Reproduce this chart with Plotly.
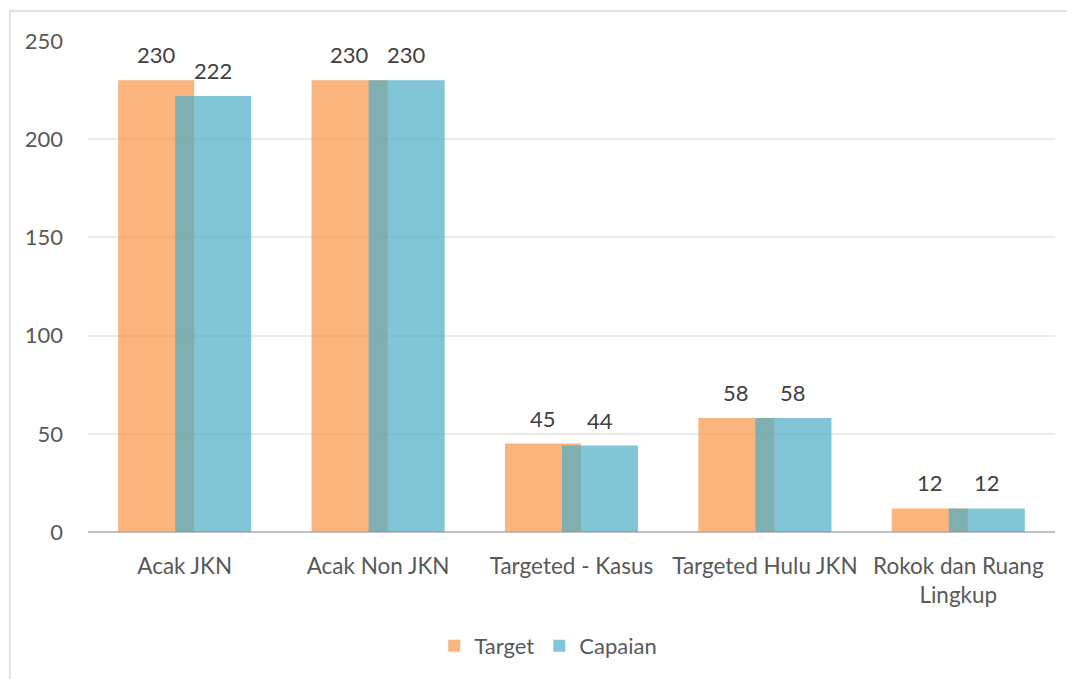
import plotly.graph_objects as go

categories = ["Acak JKN", "Acak Non JKN", "Targeted - Kasus", "Targeted Hulu JKN", "Rokok dan Ruang<br>Lingkup"]
target = [230, 230, 45, 58, 12]
capaian = [222, 230, 44, 58, 12]
y_ticks = [0, 50, 100, 150, 200, 250]

FONT = "Lato"
FS = 22
TXT = "#595959"
bar_w = 0.393
off_t = -0.344
off_c = -0.049

fig = go.Figure()
fig.add_trace(go.Bar(
    name="Target", x=categories, y=target,
    width=bar_w, offset=off_t,
    marker=dict(color="rgba(247,150,70,0.7)", line=dict(width=0)),
))
fig.add_trace(go.Bar(
    name="Capaian", x=categories, y=capaian,
    width=bar_w, offset=off_c,
    marker=dict(color="rgba(75,172,198,0.7)", line=dict(width=0)),
))

annotations = []
for i, (t, c) in enumerate(zip(target, capaian)):
    for val, off in ((t, off_t), (c, off_c)):
        annotations.append(dict(
            x=i + off + bar_w / 2, y=val, xref="x", yref="y",
            text=str(val), showarrow=False, yanchor="bottom", yshift=10,
            font=dict(family=FONT, size=FS, color="#404040"),
        ))

# page body has an 8px margin, so the figure is shifted by 8px
fig.update_layout(
    barmode="overlay",
    width=1067, height=671,
    margin=dict(l=80, r=20, t=33, b=136),
    paper_bgcolor="white", plot_bgcolor="white",
    font=dict(family=FONT, size=FS, color=TXT),
    annotations=annotations,
    legend=dict(orientation="h", x=0.476, xanchor="center", y=-0.232, yanchor="middle",
                font=dict(family=FONT, size=FS, color=TXT), itemwidth=30,
                traceorder="normal"),
    xaxis=dict(showgrid=False, showline=False, ticks="", ticklabelstandoff=18,
               tickfont=dict(family=FONT, size=22.5, color=TXT)),
    yaxis=dict(range=[0, 250], tickvals=y_ticks, showgrid=True, gridcolor="#ebebeb",
               gridwidth=1.5, zeroline=True, zerolinecolor="#c0c0c0", zerolinewidth=2,
               showline=False, ticks="", ticklabelstandoff=24,
               tickfont=dict(family=FONT, size=FS, color=TXT)),
    shapes=[dict(type="rect", xref="paper", yref="paper", x0=-0.0807, x1=1.1, y0=-0.5, y1=1.061,
                 line=dict(color="#d9d9d9", width=1.5), fillcolor="rgba(0,0,0,0)", layer="below")],
)

fig.write_html("out.html")
